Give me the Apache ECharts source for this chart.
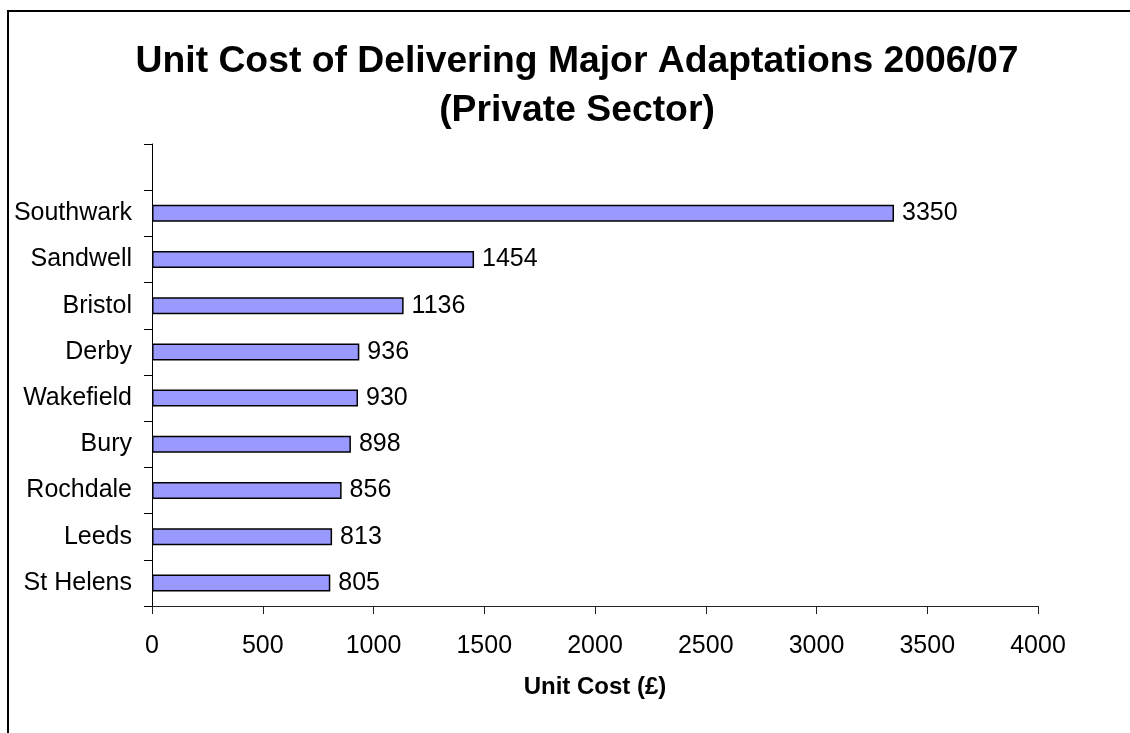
<!DOCTYPE html>
<html>
<head>
<meta charset="utf-8">
<script src="https://cdn.jsdelivr.net/npm/echarts@6/dist/echarts.min.js"></script>
<style>
html,body{margin:0;padding:0;background:#fff;}
#chart{width:1130px;height:733px;}
</style>
</head>
<body>
<div id="chart"></div>
<script>
// Data (bottom to top)
const categories = ['St Helens', 'Leeds', 'Rochdale', 'Bury', 'Wakefield', 'Derby', 'Bristol', 'Sandwell', 'Southwark'];
const unitCost = [805, 813, 856, 898, 930, 936, 1136, 1454, 3350];
const xTicks = { min: 0, max: 4000, interval: 500 };
const titleText = 'Unit Cost of Delivering Major Adaptations 2006/07\n(Private Sector)';
const xAxisTitle = 'Unit Cost (£)';

const FONT = '"Liberation Sans", Arial, sans-serif';
const chart = echarts.init(document.getElementById('chart'));
chart.setOption({
  animation: false,
  backgroundColor: '#fff',
  graphic: [{
    type: 'rect',
    shape: { x: 8, y: 11, width: 1200, height: 800 },
    style: { fill: 'none', stroke: '#000', lineWidth: 2 },
    z: -1
  }],
  title: {
    text: titleText,
    left: 572,
    textAlign: 'center',
    top: 32,
    textStyle: { fontFamily: FONT, fontSize: 37.3, fontWeight: 'bold', color: '#000', lineHeight: 49, align: 'center' }
  },
  grid: { left: 152, right: 92, top: 144, bottom: 127, containLabel: false },
  xAxis: {
    type: 'value',
    min: xTicks.min, max: xTicks.max, interval: xTicks.interval,
    name: xAxisTitle,
    nameLocation: 'middle',
    nameGap: 69,
    nameTextStyle: { fontFamily: FONT, fontSize: 24, fontWeight: 'bold', color: '#000' },
    axisLine: { show: true, lineStyle: { color: '#222', width: 1 } },
    axisTick: { show: true, length: 8, lineStyle: { color: '#222' } },
    axisLabel: { fontFamily: FONT, fontSize: 25, color: '#000', margin: 28, formatter: function (v) { return String(v); } },
    splitLine: { show: false }
  },
  yAxis: {
    type: 'category',
    data: categories.concat(['']),
    axisLine: { show: true, lineStyle: { color: '#000', width: 1 } },
    axisTick: { show: true, length: 8, lineStyle: { color: '#000' } },
    axisLabel: { fontFamily: FONT, fontSize: 25, color: '#000', margin: 20 },
    splitLine: { show: false }
  },
  series: [{
    type: 'bar',
    data: unitCost.concat([null]),
    barWidth: 17,
    itemStyle: { color: '#9999FF', borderColor: '#000', borderWidth: 1.5 },
    label: {
      show: true,
      position: 'right',
      distance: 8,
      fontFamily: FONT,
      fontSize: 25,
      color: '#000'
    }
  }]
});
</script>
</body>
</html>
